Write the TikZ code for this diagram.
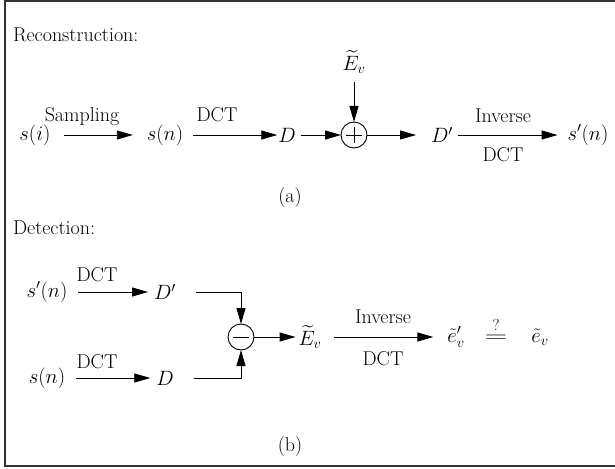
\documentclass[tikz,border=0pt]{standalone}
\usepackage{fontspec}
\usepackage{amsmath}
\usetikzlibrary{arrows.meta}
\tikzset{
  x=1pt, y=-1pt,
  every node/.style={font=\fontsize{20}{24}\selectfont, inner sep=0pt, outer sep=0pt},
  conn/.style={line width=0.9pt, -{Triangle[length=16pt,width=9pt]}},
  plainline/.style={line width=0.9pt},
  sumnode/.style={circle, draw, line width=0.9pt, minimum size=26pt},
  frameline/.style={line width=1.1pt, draw=black!80}
}
\begin{document}
\begin{tikzpicture}
\useasboundingbox (0,0) rectangle (615,468);
\draw[frameline] (5,1) rectangle (630,466);

% ---------- (a) Reconstruction ----------
\node[anchor=west] (t1) at (13,35) {Reconstruction:};
\node (si)  at (35,135) {$s(i)$};
\node (sn)  at (165,135) {$s(n)$};
\node (D)   at (287,135) {$D$};
\node[sumnode] (plus) at (354,135) {};
\draw[plainline] ([xshift=-8pt]plus.center) -- ([xshift=8pt]plus.center);
\draw[plainline] ([yshift=-8pt]plus.center) -- ([yshift=8pt]plus.center);
\node (Ev)  at (354,62) {$\widetilde{E}_v$};
\node (Dp)  at (442,135) {$D'$};
\node (spn) at (588,135) {$s'(n)$};
\node (la)  at (82,117) {Sampling};
\node (lb)  at (217,115) {DCT};
\node (lc)  at (503,116) {Inverse};
\node (ld)  at (503,155) {DCT};
\node (a)   at (290,198) {(a)};

\draw[conn, shorten <=13pt, shorten >=14pt] (si) -- (sn);
\draw[conn, shorten <=10pt, shorten >=1pt] (sn) -- (D);
\draw[conn, shorten <=5pt] (D) -- (plus);
\draw[conn, shorten <=8pt] (Ev) -- (plus);
\draw[conn, shorten >=15pt] (plus) -- (Dp);
\draw[conn, shorten <=5pt, shorten >=10pt] (Dp) -- (spn);

% ---------- (b) Detection ----------
\node[anchor=west] (t2) at (13,228) {Detection:};
\node (spn2) at (47,292) {$s'(n)$};
\node (sn2)  at (47,378) {$s(n)$};
\node (Dp2)  at (165,292) {$D'$};
\node (D2)   at (165,378) {$D$};
\node[sumnode] (minus) at (241,337) {};
\draw[plainline] ([xshift=-8pt]minus.center) -- ([xshift=8pt]minus.center);
\node (le) at (97,275) {DCT};
\node (lf) at (97,362) {DCT};
\node (Ev2) at (310,337) {$\widetilde{E}_v$};
\node (ep)  at (456,337) {$\tilde{e}'_v$};
\node (eq)  at (496,330) {$\overset{\text{\fontsize{16}{18}\selectfont ?}}{\scalebox{1.5}[1]{$=$}}$};
\node (ev)  at (540,337) {$\tilde{e}_v$};
\node (lg)  at (383,317) {Inverse};
\node (lh)  at (383,359) {DCT};
\node (b)   at (290,447) {(b)};

\draw[conn, shorten <=11pt, shorten >=6pt] (spn2) -- (Dp2);
\draw[conn, shorten <=11pt, shorten >=6pt] (sn2) -- (D2);
\draw[conn, shorten <=20pt] (Dp2.east) -| (minus.north);
\draw[conn, shorten <=20pt] (D2.east) -| (minus.south);
\draw[conn, shorten >=3pt] (minus) -- (Ev2);
\draw[conn, shorten <=13pt, shorten >=14pt] (Ev2) -- (ep);
\end{tikzpicture}
\end{document}
